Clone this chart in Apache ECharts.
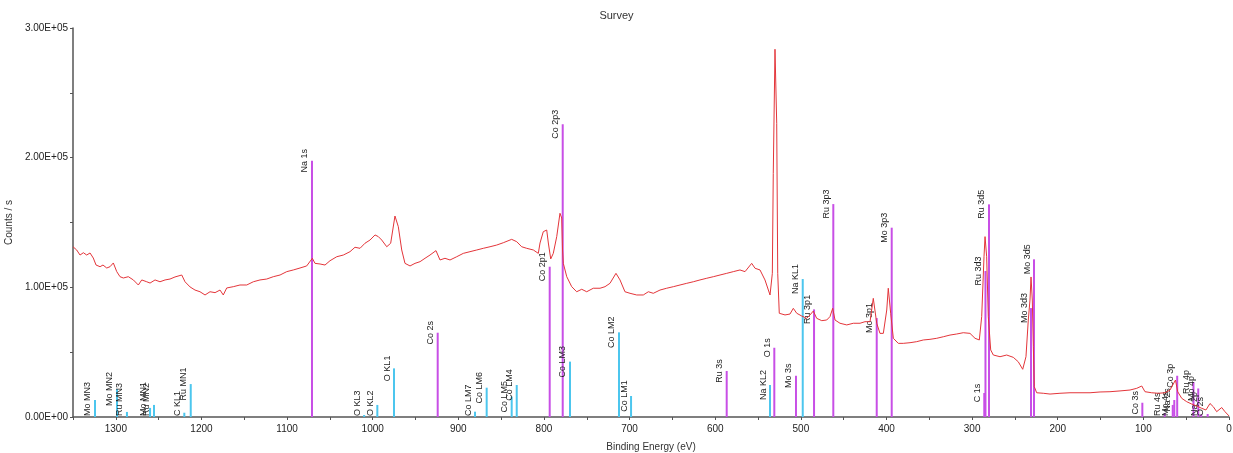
<!DOCTYPE html>
<html>
<head>
<meta charset="utf-8">
<title>Survey</title>
<script src="https://cdn.jsdelivr.net/npm/echarts@6/dist/echarts.min.js"></script>
<style>
  html, body { margin: 0; padding: 0; background: #fff; }
  #chart { width: 1233px; height: 453px; }
</style>
</head>
<body>
<div id="chart"></div>
<script>
// survey spectrum (binding energy eV, counts / s)
var spectrumEnergy = [
  1350, 1345.7, 1341.8, 1337.9, 1334.0, 1330.1, 1326.3, 1323.1, 1318.4, 1315.0,
  1310.6, 1306.8, 1302.9, 1298.9, 1295.1, 1291.2, 1285.4, 1279.5, 1273.7, 1269.7,
  1263.9, 1260.0, 1254.2, 1248.4, 1242.5, 1236.7, 1230.9, 1223.0, 1219.2, 1213.3,
  1207.5, 1201.7, 1195.8, 1190.0, 1184.1, 1178.3, 1174.5, 1170.5, 1162.8, 1155.0,
  1147.1, 1139.4, 1131.6, 1123.8, 1116.1, 1108.2, 1100.4, 1092.7, 1084.9, 1077.1,
  1070.5, 1067.4, 1061.5, 1055.7, 1049.9, 1042.0, 1034.3, 1026.5, 1020.7, 1014.8,
  1009.0, 1003.1, 997.3, 993.4, 989.5, 983.6, 979.0, 974.0, 970.1, 966.1,
  962.3, 956.4, 950.6, 944.7, 938.9, 933.1, 926.1, 921.4, 915.6, 909.7,
  901.9, 894.2, 886.4, 878.5, 870.8, 863.0, 855.2, 847.5, 837.7, 831.8,
  826.0, 820.2, 812.4, 806.6, 804.6, 800.8, 796.8, 794.9, 792.1, 789.1,
  785.1, 781.3, 779.3, 778.3, 777.4, 773.4, 767.6, 761.8, 755.9, 750.1,
  742.4, 734.5, 728.7, 722.9, 715.9, 711.2, 705.4, 699.5, 691.7, 684.0,
  678.1, 672.3, 664.5, 656.7, 648.9, 641.1, 633.3, 625.6, 617.8, 609.9,
  602.2, 594.4, 586.6, 578.9, 571.1, 565.2, 557.4, 553.5, 547.7, 541.9,
  536.0, 533.3, 532.2, 530.2, 528.2, 527.0, 525.2, 518.5, 512.7, 508.8,
  504.8, 499.0, 493.2, 489.3, 485.5, 481.5, 475.6, 469.8, 466.0, 462.8,
  460.1, 454.3, 446.4, 438.7, 430.9, 425.1, 419.2, 415.4, 411.4, 407.6,
  403.7, 399.7, 397.9, 395.1, 392.0, 386.2, 380.4, 372.5, 364.7, 357.0,
  349.2, 341.3, 333.6, 325.8, 318.0, 310.3, 302.5, 296.6, 291.6, 288.8,
  286.1, 284.9, 283.0, 281.1, 278.3, 275.2, 267.4, 259.6, 251.9, 246.1,
  240.9, 237.1, 234.4, 232.4, 231.2, 229.7, 228.5, 227.4, 224.6, 216.9,
  209.0, 197.4, 185.7, 174.0, 162.3, 150.6, 139.0, 127.3, 115.6, 107.8,
  101.9, 98.1, 90.3, 82.6, 74.7, 68.9, 62.5, 59.9, 55.2, 49.4,
  43.6, 37.7, 31.9, 26.9, 22.2, 18.3, 14.4, 8.5, 4.7, 0
];
var spectrumCounts = [
  131300, 128800, 124900, 126700, 124900, 126500, 122600, 117200, 115900, 117200,
  114900, 115900, 118800, 112100, 108200, 107200, 108200, 105700, 101800, 105700,
  104300, 103300, 105700, 104300, 105700, 106400, 108000, 109500, 104300, 100300,
  97900, 96600, 94100, 96600, 95900, 97900, 94100, 99500, 100500, 101800,
  101800, 104300, 105700, 106400, 108200, 109500, 112100, 113400, 114900, 116500,
  122400, 118500, 118000, 117200, 120500, 123600, 124900, 127500, 130900, 130100,
  134000, 136500, 140400, 139100, 136500, 131300, 134000, 155000, 146800, 128800,
  118500, 116500, 118500, 119800, 122400, 124900, 128300, 121100, 122400, 121100,
  123600, 126200, 127500, 128800, 130100, 131300, 132600, 134400, 137000, 135200,
  131300, 130100, 128800, 126200, 134200, 142900, 144200, 134200, 121900, 126200,
  139100, 157100, 153500, 128800, 118500, 108200, 100500, 96600, 98500, 96600,
  99300, 99300, 100500, 103100, 110800, 105700, 96600, 95400, 94100, 94100,
  96600, 95400, 97900, 99300, 100500, 101800, 103100, 104300, 105700, 107000,
  108200, 109500, 110800, 112100, 113400, 112100, 118500, 114700, 113400, 105700,
  94100, 110800, 187900, 283600, 226500, 110800, 80000, 78700, 79400, 83800,
  80000, 77900, 76100, 78700, 81700, 76100, 74300, 74800, 77400, 83800,
  74800, 72300, 71000, 72300, 72300, 73500, 73500, 91500, 72300, 64500,
  64500, 82500, 99300, 80000, 60700, 56800, 56800, 57300, 58100, 59400,
  59900, 60700, 61900, 63200, 64000, 65000, 64500, 60700, 59400, 77400,
  123600, 139100, 123600, 77400, 51700, 47800, 46500, 47800, 46000, 42600,
  36800, 46500, 74800, 90200, 108000, 90200, 54200, 23400, 18700, 18300,
  17700, 18300, 18700, 18700, 18700, 19300, 19500, 20100, 20800, 22100,
  23900, 19500, 18700, 18300, 18700, 20800, 28500, 19500, 14400, 11800,
  10000, 8500, 6700, 5400, 10400, 7900, 4100, 7300, 4100, 800
];

// peak markers: position, drawn height, name, kind (p = photoelectron, a = Auger)
var markerEnergy = [
  1324.3, 1298.6, 1287.0, 1260.0, 1255.4, 1220.0, 1212.5, 1070.9, 1010.0, 994.6,
  975.1, 924.1, 880.5, 866.9, 837.7, 831.8, 793.3, 778.1, 769.6, 712.4,
  698.3, 586.6, 536.0, 531.0, 505.7, 497.8, 484.6, 462.1, 411.4, 393.9,
  285.8, 284.4, 280.3, 231.2, 227.7, 101.2, 75.1, 65.7, 63.9, 60.5,
  41.5, 35.9, 32.5, 24.9
];
var markerHeight = [
  13100, 21600, 3900, 7000, 9300, 3300, 25400, 197600, 1500, 9300,
  37500, 65000, 4100, 22600, 15700, 24700, 115900, 225700, 42700, 65300,
  16200, 35500, 24700, 53400, 31800, 106400, 83000, 164200, 76300, 146000,
  18500, 112600, 164000, 84000, 121600, 11000, 3000, 9300, 13100, 31800,
  27000, 22000, 2000, 2300
];
var markerLabel = [
  'Mo MN3', 'Mo MN2', 'Ru MN3', 'Mo MN1', 'Ru MN2', 'C KL1', 'Ru MN1', 'Na 1s', 'O KL3', 'O KL2',
  'O KL1', 'Co 2s', 'Co LM7', 'Co LM6', 'Co LM5', 'Co LM4', 'Co 2p1', 'Co 2p3', 'Co LM3', 'Co LM2',
  'Co LM1', 'Ru 3s', 'Na KL2', 'O 1s', 'Mo 3s', 'Na KL1', 'Ru 3p1', 'Ru 3p3', 'Mo 3p1', 'Mo 3p3',
  'C 1s', 'Ru 3d3', 'Ru 3d5', 'Mo 3d3', 'Mo 3d5', 'Co 3s', 'Ru 4s', 'Mo 4s', 'Na 2s', 'Co 3p',
  'Ru 4p', 'Mo 4p', 'Na 2p', 'O 2s'
];
var markerKind = [
  'a', 'a', 'a', 'a', 'a', 'a', 'a', 'p', 'a', 'a',
  'a', 'p', 'a', 'a', 'a', 'a', 'p', 'p', 'a', 'a',
  'a', 'p', 'a', 'p', 'p', 'a', 'p', 'p', 'p', 'p',
  'p', 'p', 'p', 'p', 'p', 'p', 'p', 'p', 'p', 'p',
  'p', 'p', 'p', 'p'
];

var FONT = '"Liberation Sans", Arial, sans-serif';
var LABEL_FONT = '9px ' + FONT;

var measureCtx = document.createElement('canvas').getContext('2d');
measureCtx.font = LABEL_FONT;

function sciLabel (v) {
  if (v === 0) return '0.00E+00';
  var exp = Math.floor(Math.log10(v));
  var mant = v / Math.pow(10, exp);
  return mant.toFixed(2) + 'E+' + (exp < 10 ? '0' + exp : exp);
}

function renderMarker (params, api) {
  var e = api.value(0);
  var h = api.value(1);
  var i = api.value(2);
  var p0 = api.coord([e, 0]);
  var p1 = api.coord([e, h]);
  var color = markerKind[i] === 'a' ? '#4cc6ee' : '#c84fe6';
  var text = markerLabel[i];
  var half = measureCtx.measureText(text).width / 2;
  // label sits left of the line, centred on its top, but never below the axis
  var ty = Math.min(p1[1], p0[1] - half - 1);
  return {
    type: 'group',
    children: [{
      type: 'line',
      shape: { x1: p0[0], y1: p0[1], x2: p1[0], y2: p1[1] },
      style: { stroke: color, lineWidth: 2 }
    }, {
      type: 'text',
      x: p1[0] - 7,
      y: ty,
      rotation: Math.PI / 2,
      style: {
        text: text,
        font: LABEL_FONT,
        fill: '#222',
        align: 'center',
        verticalAlign: 'middle'
      }
    }]
  };
}

var chart = echarts.init(document.getElementById('chart'));

var option = {
  animation: false,
  backgroundColor: '#fff',
  title: {
    text: 'Survey',
    left: 'center',
    top: 5,
    textStyle: { fontFamily: FONT, fontSize: 11, fontWeight: 'normal', color: '#333' }
  },
  grid: { left: 73, right: 4, top: 28, bottom: 36, outerBoundsMode: 'none' },
  xAxis: {
    type: 'value',
    inverse: true,
    min: 0,
    max: 1350,
    interval: 50,
    name: 'Binding Energy (eV)',
    nameLocation: 'middle',
    nameGap: 25,
    nameTextStyle: { fontFamily: FONT, fontSize: 10, color: '#333' },
    axisLine: { onZero: false, lineStyle: { color: '#555', width: 1.5 } },
    axisTick: { length: 3, lineStyle: { color: '#555' } },
    axisLabel: {
      fontFamily: FONT,
      fontSize: 10,
      color: '#222',
      margin: 7,
      formatter: function (v) { return v % 100 === 0 ? String(v) : ''; }
    },
    splitLine: { show: false }
  },
  yAxis: {
    type: 'value',
    min: 0,
    max: 300000,
    interval: 50000,
    name: 'Counts / s',
    nameLocation: 'middle',
    nameGap: 53,
    nameTextStyle: { fontFamily: FONT, fontSize: 10, color: '#333' },
    axisLine: { show: true, onZero: false, lineStyle: { color: '#555', width: 1.5 } },
    axisTick: { show: true, length: 3, lineStyle: { color: '#555' } },
    axisLabel: {
      fontFamily: FONT,
      fontSize: 10,
      color: '#222',
      margin: 5,
      formatter: function (v) { return v % 100000 === 0 ? sciLabel(v) : ''; }
    },
    splitLine: { show: false }
  },
  series: [
    {
      type: 'custom',
      name: 'peaks',
      renderItem: renderMarker,
      encode: { x: 0, y: 1 },
      z: 1,
      data: markerEnergy.map(function (e, i) { return [e, markerHeight[i], i]; })
    },
    {
      type: 'line',
      name: 'Survey',
      showSymbol: false,
      z: 2,
      lineStyle: { color: '#e3353a', width: 1 },
      itemStyle: { color: '#e3353a' },
      data: spectrumEnergy.map(function (e, i) { return [e, spectrumCounts[i]]; })
    }
  ]
};

chart.setOption(option);
</script>
</body>
</html>
